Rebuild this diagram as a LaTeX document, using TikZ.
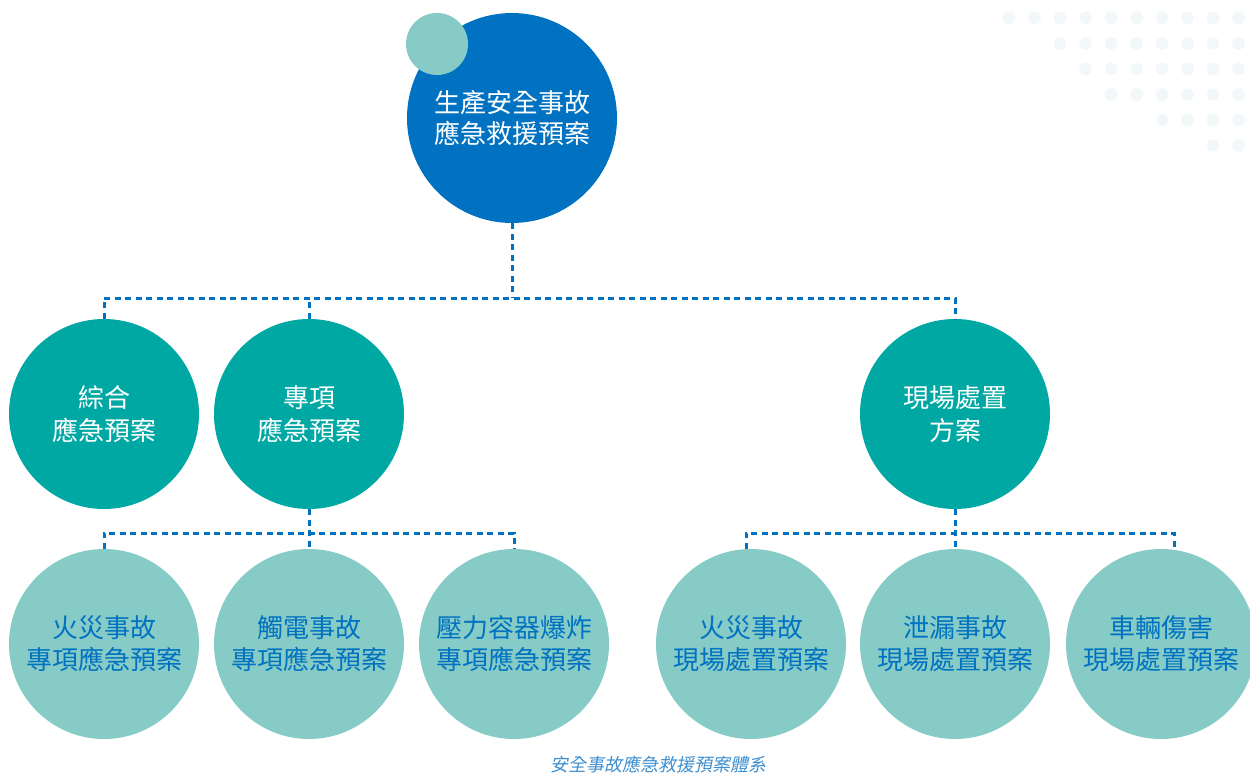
\documentclass[tikz,border=0pt]{standalone}
\usepackage{fontspec}
\newfontfamily\cjk{Noto Sans CJK TC}
\newfontfamily\cjkit[FakeSlant=0.2]{Noto Sans CJK TC}
\definecolor{mainblue}{RGB}{0,114,193}
\definecolor{teal2}{RGB}{0,168,164}
\definecolor{lteal}{RGB}{134,203,198}
\definecolor{dotgray}{RGB}{242,247,250}
\definecolor{capblue}{RGB}{62,143,208}
\begin{document}
\begin{tikzpicture}[x=1pt,y=-1pt,
  conn/.style={draw=mainblue,line width=3pt,dash pattern=on 6pt off 4.5pt},
  topc/.style={circle,fill=mainblue,minimum size=210pt,inner sep=0pt,text=white,align=center,font=\cjk\fontsize{26}{31}\selectfont},
  midc/.style={circle,fill=teal2,minimum size=190pt,inner sep=0pt,text=white,align=center,font=\cjk\fontsize{26}{33}\selectfont},
  lowc/.style={circle,fill=lteal,minimum size=190pt,inner sep=0pt,text=mainblue,align=center,font=\cjk\fontsize{26}{32}\selectfont},
  dotc/.style={fill=dotgray,draw=none}]
\useasboundingbox (0,0) rectangle (1250,773);
% background dots
\foreach \r/\s in {0/0,1/2,2/3,3/4,4/6,5/8}{
  \foreach \i in {\s,...,9}{
    \fill[dotc] ({1009+25.5*\i},{18+25.5*\r}) circle (6.3pt);
  }
}
% nodes
\node[topc] (top) at (512,118) {生產安全事故\\應急救援預案};
\node[circle,fill=lteal,minimum size=62pt,inner sep=0pt] (small) at (437,44) {};
\node[midc] (gen) at (104,414) {綜合\\應急預案};
\node[midc] (spec) at (309,414) {專項\\應急預案};
\node[midc] (site) at (955,414) {現場處置\\方案};
\node[lowc] (fire) at (104,644) {火災事故\\專項應急預案};
\node[lowc] (elec) at (309,644) {觸電事故\\專項應急預案};
\node[lowc] (press) at (514,644) {壓力容器爆炸\\專項應急預案};
\node[lowc] (sfire) at (751,644) {火災事故\\現場處置預案};
\node[lowc] (leak) at (955,644) {泄漏事故\\現場處置預案};
\node[lowc] (car) at (1161,644) {車輛傷害\\現場處置預案};
\node[font=\cjkit\fontsize{18}{18}\selectfont,text=capblue] (cap) at (658,764) {安全事故應急救援預案體系};
% connectors
\coordinate (j1) at (512,298);
\coordinate (j2) at (309,533);
\coordinate (j3) at (955,533);
\coordinate (sf) at ([xshift=-5pt]sfire.north);
\coordinate (cr) at ([xshift=13pt]car.north);
\path[conn] (top.south) -- (j1);
\path[conn] (gen.north) |- (site.north |- j1) -- (site.north);
\path[conn] (spec.north) -- (spec.north |- j1);
\path[conn] (spec.south) -- (elec.north);
\path[conn] (fire.north) |- (press.north |- j2) -- (press.north);
\path[conn] (site.south) -- (leak.north);
\path[conn] (sf) |- (cr |- j3) -- (cr);
\end{tikzpicture}
\end{document}
